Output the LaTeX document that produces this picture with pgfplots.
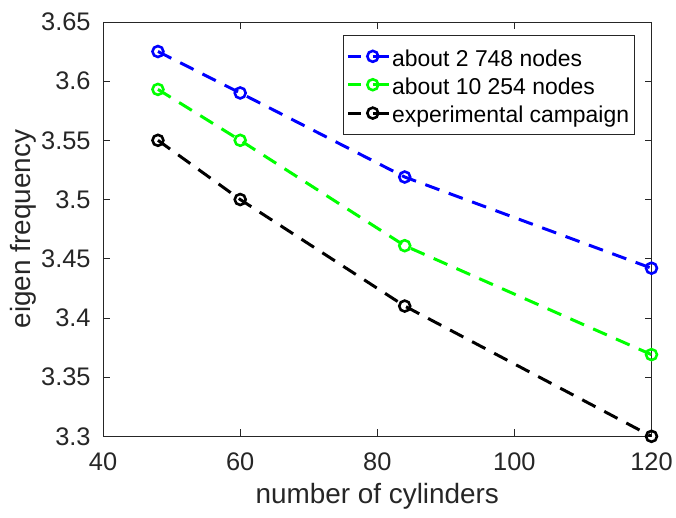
\documentclass[border=0pt]{standalone}
\usepackage{pgfplots}
\pgfplotsset{compat=1.18}
\usepackage{fontspec}
\setmainfont{Liberation Sans}
\definecolor{axgray}{RGB}{38,38,38}
\definecolor{mblue}{RGB}{0,0,255}
\definecolor{mgreen}{RGB}{0,255,0}
\begin{document}
\begin{tikzpicture}
\begin{axis}[
  scale only axis,
  width=550.5pt, height=416pt,
  xmin=40, xmax=120, ymin=3.3, ymax=3.65,
  xtick={40,60,...,120},
  ytick={3.3,3.35,...,3.66},
  /pgf/number format/assume math mode=true,
  /pgf/number format/precision=2,
  tick align=inside,
  major tick length=7pt,
  axis line style={axgray, line width=0.8pt},
  every tick/.style={axgray, line width=0.8pt},
  ticklabel style={font=\fontsize{25.5}{30}\selectfont, text=axgray},
  yticklabel style={xshift=-9pt},
  xticklabel style={yshift=-13pt},
  xlabel={number of cylinders},
  ylabel={eigen frequency},
  label style={font=\fontsize{28}{33}\selectfont, text=axgray},
  xlabel style={yshift=-6pt},
  ylabel style={yshift=-2pt},
  legend style={at={(rel axis cs:0.969,0.969)}, anchor=north east,
    font=\fontsize{23}{28}\selectfont, draw=axgray, line width=0.8pt,
    inner xsep=3pt, inner ysep=8pt, row sep=2pt,
    cells={anchor=west, text height=21pt, text depth=0pt},
    /tikz/every even column/.style={column sep=2pt}},
  legend image code/.code={
    \draw[#1, solid, mark=none] (0pt,0pt) -- (13pt,0pt);
    \draw[#1, solid, mark=none] (25pt,0pt) -- (41pt,0pt);
    \draw[#1, solid] plot coordinates {(25pt,0pt)};
  },
  every axis plot/.append style={line width=3pt, dash pattern=on 15pt off 10pt,
    mark=o, mark size=5.5pt, mark options={solid, line width=2.6pt}},
]
\addplot[mblue] coordinates {(48,3.625) (60,3.590) (84,3.519) (120,3.442)};
\addlegendentry{about 2 748 nodes}
\addplot[mgreen] coordinates {(48,3.593) (60,3.550) (84,3.461) (120,3.369)};
\addlegendentry{about 10 254 nodes}
\addplot[black] coordinates {(48,3.550) (60,3.500) (84,3.410) (120,3.300)};
\addlegendentry{experimental campaign}
\end{axis}
\path[use as bounding box] (current axis.south west) ++(-103.5pt,-81pt) rectangle ++(676pt,519pt);
\end{tikzpicture}
\end{document}
